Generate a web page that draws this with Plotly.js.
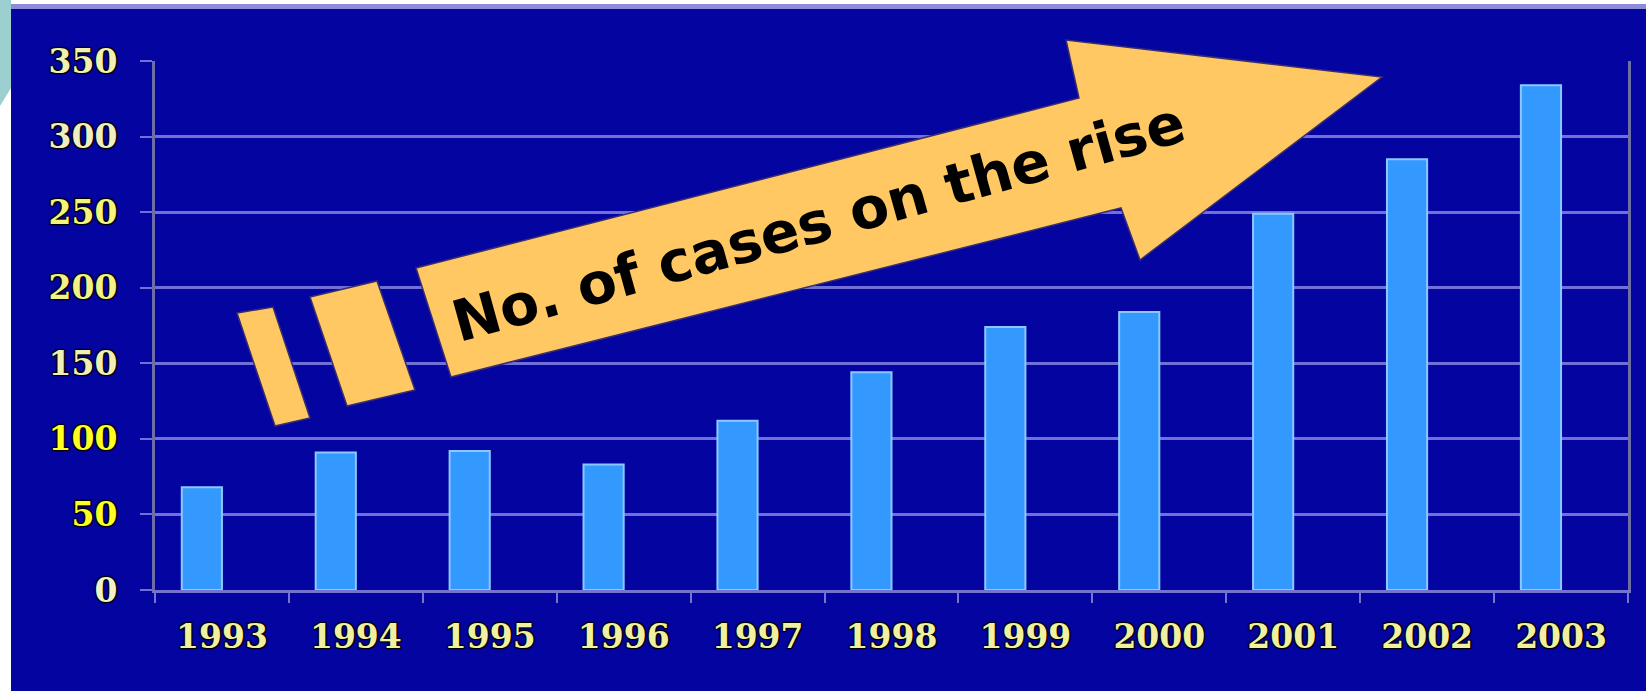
<!DOCTYPE html>
<html>
<head>
<meta charset="utf-8">
<script src="https://cdn.plot.ly/plotly-3.0.1.min.js"></script>
<style>
  html, body { margin: 0; padding: 0; background: #ffffff; overflow: hidden; }
  #chart { width: 1646px; height: 691px; }
</style>
</head>
<body>
<div id="chart"></div>
<script>
// ---- data ----
const years = ['1993', '1994', '1995', '1996', '1997', '1998', '1999', '2000', '2001', '2002', '2003'];
const cases = [68, 91, 92, 83, 112, 144, 174, 184, 249, 285, 334];
const yTickValues = [0, 50, 100, 150, 200, 250, 300, 350];
const yTickColors = ['#F2F2C6', '#FFFF22', '#FFFF22', '#F0F0B4', '#F2F288', '#F4F47A', '#EEEEC0', '#F0F0B0'];
const arrowLabel = 'No. of cases on the rise';

// ---- geometry (pixels of the 1646x691 page) ----
const W = 1646, H = 691;
const L = 155, R = 1628, T = 61, B = 590;
const pw = R - L, ph = B - T;
const px = x => (x - L) / pw;
const py = y => (B - y) / ph;
function path(pts) {
  return 'M ' + pts.map(p => px(p[0]).toFixed(5) + ',' + py(p[1]).toFixed(5)).join(' L ') + ' Z';
}

const blue = '#0404A0';
const orange = '#FFC862';
const shadow = '1px 1px 1px #000, -1px -1px 1px #000, 1px -1px 1px #000, -1px 1px 1px #000';

const shapes = [
  // dark blue panel
  { type: 'path', xref: 'paper', yref: 'paper', layer: 'below',
    path: path([[11, 9], [W, 9], [W, H], [11, H]]), fillcolor: blue, line: { width: 0 } },
  // lavender top rule
  { type: 'path', xref: 'paper', yref: 'paper', layer: 'below',
    path: path([[11, 4], [W, 4], [W, 9], [11, 9]]), fillcolor: '#8C8CD8', line: { width: 0 } },
  // teal corner
  { type: 'path', xref: 'paper', yref: 'paper', layer: 'below',
    path: path([[0, 0], [11, 0], [11, 88], [0, 106]]), fillcolor: '#9CCFD0', line: { width: 0 } },
  // dashes before the arrow
  { type: 'path', xref: 'paper', yref: 'paper', layer: 'above',
    path: path([[237, 313], [273, 307], [310, 418], [275, 426]]),
    fillcolor: orange, line: { color: '#3A2E70', width: 1.5 } },
  { type: 'path', xref: 'paper', yref: 'paper', layer: 'above',
    path: path([[310, 297], [377, 281], [415, 390], [347, 406]]),
    fillcolor: orange, line: { color: '#3A2E70', width: 1.5 } },
  // big arrow
  { type: 'path', xref: 'paper', yref: 'paper', layer: 'above',
    path: path([[416, 268], [1079, 98], [1066, 40], [1382, 77], [1140, 260], [1121, 208], [451, 377]]),
    fillcolor: orange, line: { color: '#3A2E70', width: 1.5 } }
];

const annotations = [
  { xref: 'paper', yref: 'paper', x: px(818), y: py(222), xanchor: 'center', yanchor: 'middle',
    text: arrowLabel, showarrow: false, textangle: -15.5,
    font: { family: 'DejaVu Sans', size: 57, weight: 'bold', color: '#000000' } }
];

const trace = {
  type: 'bar',
  x: years,
  y: cases,
  offset: -0.3,
  width: 0.3,
  marker: { color: '#3399FF', line: { color: '#8CC8FF', width: 2 } },
  hoverinfo: 'skip'
};

const tickFont = { family: 'DejaVu Serif', size: 33, weight: 'bold', color: '#F0F0A0', shadow: shadow };

const layout = {
  width: W, height: H,
  margin: { l: L, r: W - R, t: T, b: H - B, pad: 0 },
  paper_bgcolor: '#ffffff',
  plot_bgcolor: 'rgba(0,0,0,0)',
  showlegend: false,
  xaxis: {
    type: 'category',
    showgrid: false, zeroline: false,
    showline: true, linecolor: '#7474D0', linewidth: 3,
    ticks: 'outside', tickson: 'boundaries', ticklen: 10, tickwidth: 2, tickcolor: '#7474D0',
    tickfont: tickFont, ticklabelstandoff: 15,
    fixedrange: true
  },
  yaxis: {
    range: [0, 350],
    tickvals: yTickValues,
    ticktext: yTickValues.map((v, i) => '<span style="color:' + yTickColors[i] + '">' + v + '</span>'),
    showgrid: true, gridcolor: '#7070D8', gridwidth: 3,
    zeroline: false,
    showline: true, mirror: true, linecolor: '#6E6EA6', linewidth: 3,
    ticks: 'outside', ticklen: 12, tickwidth: 2, tickcolor: '#7070D8',
    tickfont: tickFont, ticklabelstandoff: 16,
    fixedrange: true
  },
  shapes: shapes,
  annotations: annotations
};

Plotly.newPlot('chart', [trace], layout, { displayModeBar: false, staticPlot: true });
</script>
</body>
</html>
